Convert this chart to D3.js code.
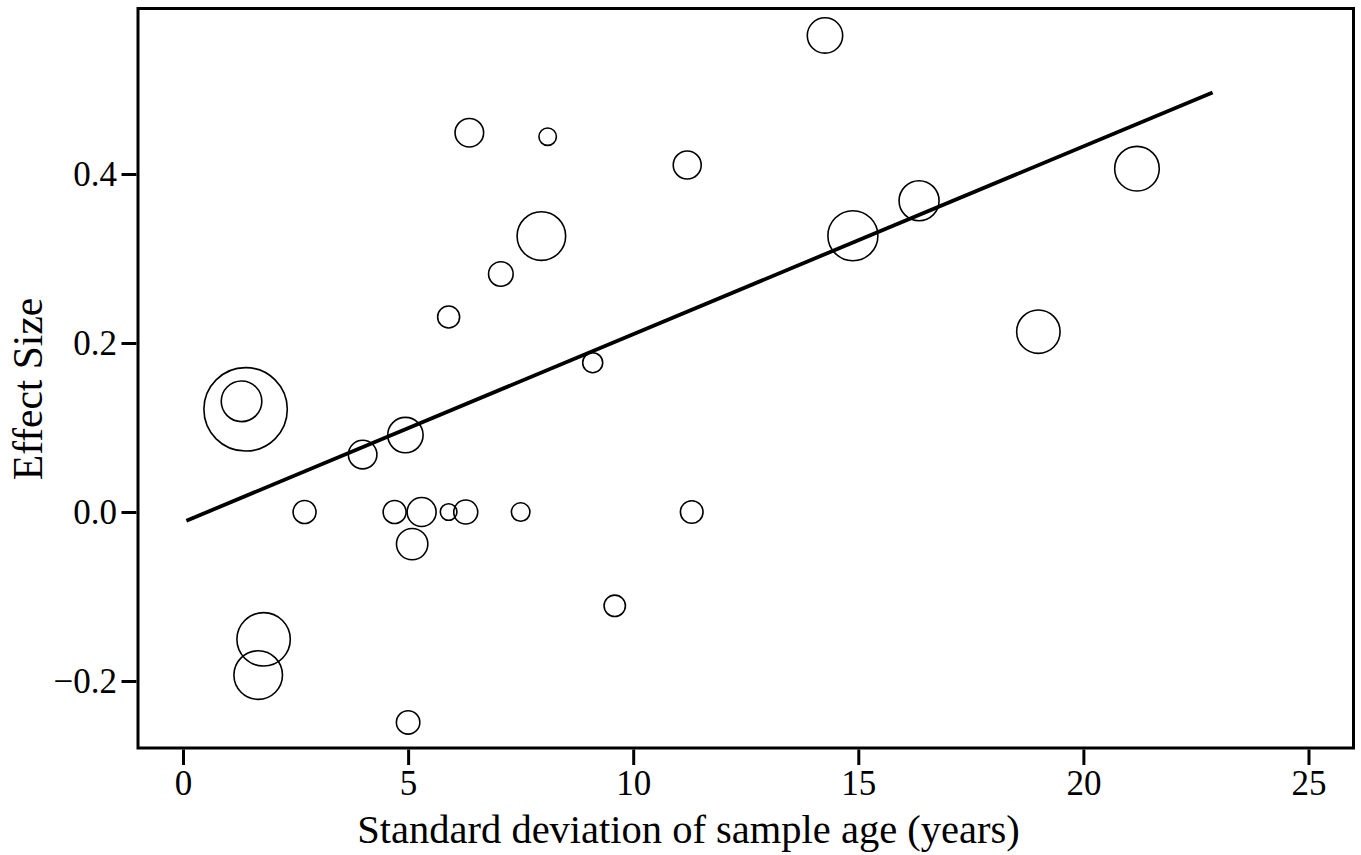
<!DOCTYPE html>
<html>
<head>
<meta charset="utf-8">
<script src="https://cdn.jsdelivr.net/npm/d3@7"></script>
<style>
  html, body { margin: 0; padding: 0; background: #fff; }
  svg { display: block; }
</style>
</head>
<body>
<svg id="chart" width="1361" height="855"></svg>
<script>
// Meta-regression: effect size against SD of sample age, one bubble per study
const sdAge = [1.39, 1.30, 1.79, 1.67, 5.00, 2.70, 3.99, 4.94, 4.70, 5.30,
               5.09, 5.90, 6.28, 7.50, 6.36, 8.10, 11.20, 7.96, 7.06, 5.90,
               9.10, 11.30, 9.59, 14.26, 14.88, 16.35, 21.19, 19.00];
const effectSize = [0.1215, 0.131, -0.1507, -0.193, -0.249, 0, 0.068, 0.091, 0, 0,
                    -0.038, 0, 0, 0, 0.4489, 0.4442, 0.4107, 0.3266, 0.2817, 0.2308,
                    0.1767, 0, -0.111, 0.564, 0.327, 0.3684, 0.4063, 0.2134];
// study weights (%), bubble area proportional to weight
const studyWeight = [17.39, 4.12, 7.13, 5.90, 1.37, 1.32, 2.04, 3.13, 1.32, 2.10,
                     2.46, 0.69, 1.44, 0.86, 2.04, 0.76, 1.96, 5.90, 1.51, 1.21,
                     1.00, 1.28, 1.14, 3.13, 6.25, 4.00, 4.97, 4.71];

// fitted meta-regression line
const fitIntercept = -0.0120;
const fitSlope = 0.02224;
const fitRange = [0.075, 22.87];

const xTicks = [0, 5, 10, 15, 20, 25];
const yTicks = [-0.2, 0.0, 0.2, 0.4];
const xTitle = "Standard deviation of sample age (years)";
const yTitle = "Effect Size";

const svg = d3.select("#chart");
const font = "'Liberation Serif', 'Times New Roman', serif";

const box = { left: 138, right: 1353.5, top: 8.5, bottom: 748 };

const x = d3.scaleLinear().domain([-1, 26]).range([box.left, box.right]);
const y = d3.scaleLinear().domain([-0.2793, 0.5959]).range([box.bottom, box.top]);
const r = d3.scaleSqrt().domain([0, d3.max(studyWeight)]).range([0, 41.7]);

// bubbles
const pts = sdAge.map((v, i) => ({ x: v, y: effectSize[i], w: studyWeight[i] }));
svg.append("g")
  .selectAll("circle")
  .data(pts)
  .join("circle")
  .attr("cx", d => x(d.x))
  .attr("cy", d => y(d.y))
  .attr("r", d => r(d.w))
  .attr("fill", "none")
  .attr("stroke", "#000")
  .attr("stroke-width", 1.6);

// regression line
const line = d3.line().x(d => x(d)).y(d => y(fitIntercept + fitSlope * d));
svg.append("path")
  .datum(fitRange)
  .attr("d", line)
  .attr("fill", "none")
  .attr("stroke", "#000")
  .attr("stroke-width", 3.8);

// plot frame
svg.append("rect")
  .attr("x", box.left).attr("y", box.top)
  .attr("width", box.right - box.left)
  .attr("height", box.bottom - box.top)
  .attr("fill", "none")
  .attr("stroke", "#000")
  .attr("stroke-width", 3);

// x axis
const gx = svg.append("g")
  .attr("transform", `translate(0,${box.bottom + 1.5})`)
  .call(d3.axisBottom(x).tickValues(xTicks).tickSize(15.5).tickPadding(5).tickFormat(d3.format("d")));
gx.select(".domain").remove();
gx.selectAll(".tick line").attr("stroke", "#000").attr("stroke-width", 3);
gx.selectAll(".tick text").attr("fill", "#000").style("font-family", font).style("font-size", "35px");

// y axis
const gy = svg.append("g")
  .attr("transform", `translate(${box.left - 1.5},0)`)
  .call(d3.axisLeft(y).tickValues(yTicks).tickSize(15).tickPadding(4.5).tickFormat(d3.format(".1f")));
gy.select(".domain").remove();
gy.selectAll(".tick line").attr("stroke", "#000").attr("stroke-width", 3);
gy.selectAll(".tick text").attr("fill", "#000").style("font-family", font).style("font-size", "35px");

// axis titles
svg.append("text")
  .attr("x", 688.5).attr("y", 843)
  .attr("text-anchor", "middle")
  .style("font-family", font).style("font-size", "40.5px")
  .text(xTitle);

svg.append("text")
  .attr("transform", "translate(42,389) rotate(-90)")
  .attr("text-anchor", "middle")
  .style("font-family", font).style("font-size", "41.5px")
  .text(yTitle);
</script>
</body>
</html>
